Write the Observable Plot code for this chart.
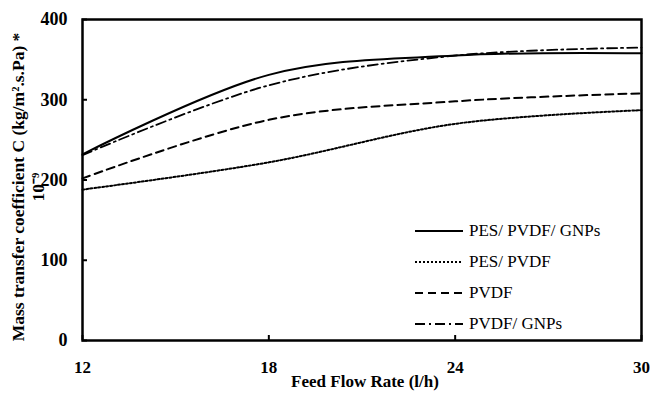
<!DOCTYPE html>
<html>
<head>
<meta charset="utf-8">
<script src="https://cdn.jsdelivr.net/npm/d3@7"></script>
<script src="https://cdn.jsdelivr.net/npm/@observablehq/plot@0.6"></script>
<style>
  body { margin: 0; background: #fff; }
  #wrap { position: relative; width: 651px; height: 394px; font-family: "Liberation Serif", "Times New Roman", serif; }
  .row { position: absolute; height: 20px; line-height: 20px; font-size: 17px; color: #000; white-space: nowrap; display: flex; align-items: center; }
  .row svg { margin-right: 6px; }
</style>
</head>
<body>
<div id="wrap"></div>
<script>
// ---- data ----
const flowRate = [12, 18, 24, 30];
const pesPvdfGnps = [232, 331, 355, 358];
const pesPvdf = [188, 222, 270, 287];
const pvdf = [202, 275, 298, 308];
const pvdfGnps = [231, 318, 355, 365];
const seriesNames = ["PES/ PVDF/ GNPs", "PES/ PVDF", "PVDF", "PVDF/ GNPs"];
const xTicks = [12, 18, 24, 30];
const yTicks = [0, 100, 200, 300, 400];
const xLabel = "Feed Flow Rate (l/h)";
const yLabel = "Mass transfer coefficient C (kg/m².s.Pa) *\n10⁻⁹";

// ---- styles ----
const styles = {
  "PES/ PVDF/ GNPs": {dash: null, width: 2},
  "PES/ PVDF": {dash: "2,2", width: 2},
  "PVDF": {dash: "8,5", width: 2},
  "PVDF/ GNPs": {dash: "10,4,2,4", width: 1.8}
};

const seriesValues = [pesPvdfGnps, pesPvdf, pvdf, pvdfGnps];
const rows = [];
seriesNames.forEach((name, i) => {
  flowRate.forEach((x, j) => rows.push({series: name, x, y: seriesValues[i][j]}));
});

const font = "Liberation Serif, Times New Roman, serif";

const lineMarks = seriesNames.map(name => Plot.line(rows.filter(d => d.series === name), {
  x: "x", y: "y", curve: "cardinal", stroke: "#000",
  strokeWidth: styles[name].width,
  strokeDasharray: styles[name].dash || undefined
}));

const chart = Plot.plot({
  width: 651,
  height: 394,
  marginLeft: 82,
  marginRight: 10,
  marginTop: 19,
  marginBottom: 54,
  style: {fontFamily: font, background: "#fff", color: "#000"},
  x: {domain: [12, 30]},
  y: {domain: [0, 400]},
  marks: [
    ...lineMarks,
    // inward ticks
    Plot.axisX(xTicks, {tickSize: 5, dy: -5, tickFormat: () => "", label: null, strokeWidth: 2}),
    Plot.axisY(yTicks, {tickSize: 5, dx: 5, tickFormat: () => "", label: null, strokeWidth: 2}),
    // tick labels
    Plot.axisX(xTicks, {tickSize: 0, tickPadding: 20, fontSize: 17, fontWeight: "bold", label: null}),
    Plot.axisY(yTicks, {tickSize: 0, tickPadding: 15, fontSize: 18, fontWeight: "bold", label: null}),
    Plot.frame({stroke: "#000", strokeWidth: 2.5}),
    Plot.text([xLabel], {frameAnchor: "bottom", dy: 46, dx: 3, fontSize: 17, fontWeight: "bold", text: d => d}),
    Plot.text([yLabel], {frameAnchor: "left", textAnchor: "middle", dx: -55, dy: 7, rotate: -90, fontSize: 17.5, fontWeight: "bold", lineHeight: 1.15, text: d => d})
  ]
});

const wrap = document.getElementById("wrap");
wrap.appendChild(chart);

// legend overlay
const legendTop = [231, 262, 293, 324];
seriesNames.forEach((name, i) => {
  const row = document.createElement("div");
  row.className = "row";
  row.style.left = "415px";
  row.style.top = (legendTop[i] - 10) + "px";
  const s = styles[name];
  row.innerHTML = `<svg width="48" height="10"><line x1="0" x2="48" y1="5" y2="5" stroke="#000" stroke-width="${s.width}" ${s.dash ? `stroke-dasharray="${s.dash}"` : ""}/></svg><span>${name}</span>`;
  wrap.appendChild(row);
});
</script>
</body>
</html>
